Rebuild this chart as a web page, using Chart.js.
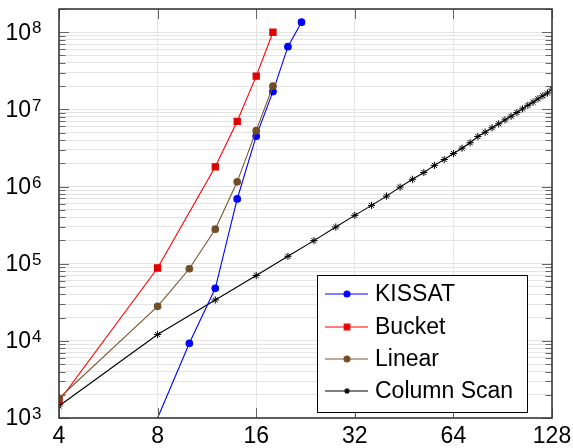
<!DOCTYPE html>
<html>
<head>
<meta charset="utf-8">
<script src="https://cdn.jsdelivr.net/npm/chart.js@4/dist/chart.umd.min.js"></script>
<style>
  html, body { margin: 0; padding: 0; background: #fff; }
  #wrap { width: 573px; height: 448px; }
</style>
</head>
<body>
<div id="wrap"><canvas id="plot" width="573" height="448"></canvas></div>
<script>
// ── DATA ──
const xTicks = [4, 8, 16, 32, 64, 128];
const yMajorTicks = [1e3, 1e4, 1e5, 1e6, 1e7, 1e8];
const yMin = 1e3;
const yMax = 2e8;

const seriesNames = ['KISSAT', 'Bucket', 'Linear', 'Column Scan'];

const kissatX = [8, 10, 12, 14, 16, 18, 20, 22];
const kissatY = [1000, 9300, 48000, 690000, 4.5e6, 1.7e7, 6.5e7, 1.35e8];

const bucketX = [4, 8, 12, 14, 16, 18];
const bucketY = [1650, 88000, 1.8e6, 7.0e6, 2.7e7, 1.0e8];

const linearX = [4, 8, 10, 12, 14, 16, 18];
const linearY = [1800, 28000, 86000, 280000, 1.15e6, 5.3e6, 2.0e7];

const scanX = [4, 8, 12, 16, 20, 24, 28, 32, 36, 40, 44, 48, 52, 56, 60, 64,
               68, 72, 76, 80, 84, 88, 92, 96, 100, 104, 108, 112, 116, 120, 124, 128];
const scanY = [1430, 12100, 33900, 70200, 124700, 199000, 298500, 423000, 570000, 751000,
               982000, 1.24e6, 1.52e6, 1.88e6, 2.24e6, 2.68e6, 3.14e6, 3.69e6, 4.45e6, 5.06e6,
               5.77e6, 6.5e6, 7.31e6, 8.14e6, 9.1e6, 1.015e7, 1.13e7, 1.24e7, 1.37e7, 1.5e7,
               1.63e7, 1.83e7];

const FONT = '"Liberation Sans", Arial, sans-serif';
const GRID = '#e4e4e4';
const TICK = '#666666';
const FRAME = '#3a3a3a';

function pairs(xs, ys) {
    return xs.map((x, i) => ({ x, y: ys[i] }));
}

// minor y ticks: 2..9 × each decade
const yAllTicks = [];
yMajorTicks.forEach(d => {
    for (let k = 1; k <= 9; k++) {
        const v = d * k;
        if (v <= yMax) yAllTicks.push(v);
    }
});

// ── PLUGIN: frame, tick marks, labels with superscript, legend ──
const decorPlugin = {
    id: 'decor',
    afterDraw(chart) {
        const ctx = chart.ctx;
        const a = chart.chartArea;
        const xs = chart.scales.x;
        const ys = chart.scales.y;

        ctx.save();
        // tick marks (inside, both sides)
        ctx.strokeStyle = TICK;
        ctx.lineWidth = 1;
        ctx.beginPath();
        yAllTicks.forEach(v => {
            const y = Math.round(ys.getPixelForValue(v)) + 0.5;
            const len = yMajorTicks.includes(v) ? 10 : 6.5;
            ctx.moveTo(a.left, y); ctx.lineTo(a.left + len, y);
            ctx.moveTo(a.right, y); ctx.lineTo(a.right - len, y);
        });
        xTicks.forEach(v => {
            const x = Math.round(xs.getPixelForValue(v)) + 0.5;
            ctx.moveTo(x, a.bottom); ctx.lineTo(x, a.bottom - 10);
            ctx.moveTo(x, a.top); ctx.lineTo(x, a.top + 10);
        });
        ctx.stroke();

        // frame
        ctx.strokeStyle = FRAME;
        ctx.lineWidth = 1.6;
        ctx.strokeRect(a.left, a.top, a.right - a.left, a.bottom - a.top);

        // x labels
        ctx.fillStyle = '#000';
        ctx.font = '23px ' + FONT;
        ctx.textAlign = 'center';
        ctx.textBaseline = 'middle';
        xTicks.forEach(v => {
            ctx.fillText(String(v), xs.getPixelForValue(v), 437);
        });

        // y labels 10^n
        yMajorTicks.forEach(v => {
            const y = ys.getPixelForValue(v);
            const exp = Math.round(Math.log10(v));
            ctx.font = '23px ' + FONT;
            ctx.textAlign = 'right';
            ctx.textBaseline = 'middle';
            ctx.fillText('10', 31, y + 1);
            ctx.font = '17px ' + FONT;
            ctx.textAlign = 'left';
            ctx.textBaseline = 'top';
            ctx.fillText(String(exp), 32, y - 12);
        });

        // legend
        const box = { left: 317, top: 275, right: 527, bottom: 412 };
        ctx.fillStyle = '#fff';
        ctx.fillRect(box.left, box.top, box.right - box.left, box.bottom - box.top);
        ctx.strokeStyle = '#000';
        ctx.lineWidth = 1;
        ctx.strokeRect(box.left + 0.5, box.top + 0.5, box.right - box.left, box.bottom - box.top);

        const rowY = [294, 327, 359, 391];
        chart.data.datasets.forEach((ds, i) => {
            const y = rowY[i];
            ctx.strokeStyle = ds.borderColor;
            ctx.lineWidth = ds.borderWidth;
            ctx.beginPath();
            ctx.moveTo(325, y); ctx.lineTo(368, y);
            ctx.stroke();
            ctx.fillStyle = ds.pointBackgroundColor;
            ctx.strokeStyle = ds.borderColor;
            Chart.helpers.drawPoint(ctx, {
                pointStyle: ds.pointStyle,
                radius: ds.legendRadius,
                borderWidth: 1,
                rotation: 0
            }, 347, y);
            ctx.fillStyle = '#000';
            ctx.font = '23px ' + FONT;
            ctx.textAlign = 'left';
            ctx.textBaseline = 'middle';
            ctx.fillText(ds.label, 375, y + 1);
        });
        ctx.restore();
    }
};

const kissatRadius = kissatX.map((x, i) => i === 0 ? 0 : 3.3);

new Chart(document.getElementById('plot'), {
    type: 'line',
    data: {
        datasets: [
            {
                label: seriesNames[0],
                data: pairs(kissatX, kissatY),
                borderColor: '#0000ff',
                pointBackgroundColor: '#0000ff',
                pointBorderColor: '#0000ff',
                pointStyle: 'circle',
                pointRadius: kissatRadius,
                legendRadius: 3,
                borderWidth: 1.1,
                order: 4
            },
            {
                label: seriesNames[1],
                data: pairs(bucketX, bucketY),
                borderColor: '#ff0000',
                pointBackgroundColor: '#e00000',
                pointBorderColor: '#e00000',
                pointStyle: 'rect',
                pointRadius: 4.4,
                legendRadius: 4,
                borderWidth: 1.1,
                order: 3
            },
            {
                label: seriesNames[2],
                data: pairs(linearX, linearY),
                borderColor: '#7a5530',
                pointBackgroundColor: '#734d26',
                pointBorderColor: '#734d26',
                pointStyle: 'circle',
                pointRadius: 3.3,
                legendRadius: 3,
                borderWidth: 1.1,
                order: 2
            },
            {
                label: seriesNames[3],
                data: pairs(scanX, scanY),
                borderColor: '#000000',
                pointBackgroundColor: '#000000',
                pointBorderColor: '#000000',
                pointStyle: 'star',
                pointRadius: 3.6,
                pointBorderWidth: 1,
                legendRadius: 3,
                borderWidth: 1.1,
                order: 1
            }
        ]
    },
    options: {
        responsive: false,
        animation: false,
        events: [],
        layout: { padding: { top: 9, right: 21, left: 0, bottom: 0 } },
        elements: { line: { tension: 0 } },
        plugins: {
            legend: { display: false },
            tooltip: { enabled: false }
        },
        scales: {
            x: {
                type: 'logarithmic',
                min: 4,
                max: 128,
                afterBuildTicks: s => { s.ticks = xTicks.map(v => ({ value: v })); },
                afterFit: s => { s.height = 30; },
                ticks: { display: false },
                grid: { color: GRID, lineWidth: 1, drawTicks: false },
                border: { display: false }
            },
            y: {
                type: 'logarithmic',
                min: yMin,
                max: yMax,
                afterBuildTicks: s => { s.ticks = yAllTicks.map(v => ({ value: v })); },
                afterFit: s => { s.width = 59; },
                ticks: { display: false },
                grid: { color: GRID, lineWidth: 1, drawTicks: false },
                border: { display: false }
            }
        }
    },
    plugins: [decorPlugin]
});
</script>
</body>
</html>
